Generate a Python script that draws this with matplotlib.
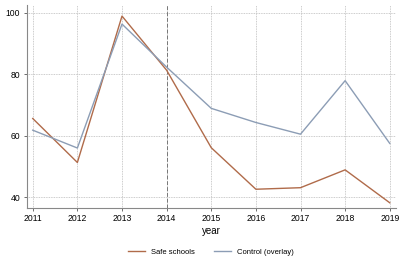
import matplotlib
matplotlib.use("Agg")
import matplotlib.pyplot as plt
from matplotlib.lines import Line2D

years = [2011, 2012, 2013, 2014, 2015, 2016, 2017, 2018, 2019]
safe_schools = [65.6, 51.3, 98.9, 81.3, 56.1, 42.6, 43.1, 48.9, 38.2]
control = [61.8, 56.0, 96.3, 82.3, 68.9, 64.3, 60.5, 77.9, 57.5]
yticks = [40, 60, 80, 100]
treat_year = 2014

plt.rcParams['font.family'] = ['Liberation Sans', 'DejaVu Sans']

W, H = 399, 259
fig = plt.figure(figsize=(W/100, H/100), dpi=100)
ax = fig.add_axes([26.5/W, 1-208/H, (396-26.5)/W, (208-5)/H])

c_safe = '#b06b4a'
c_ctrl = '#8c9db5'

ax.plot(years, safe_schools, color=c_safe, lw=1.0, zorder=3)
ax.plot(years, control, color=c_ctrl, lw=1.0, zorder=3)
ax.axvline(treat_year, color='#777777', lw=0.7, ls=(0, (4, 2)), zorder=2)

ax.set_xlim(2010.86, 2019.14)
ax.set_ylim(36.5, 102.5)
ax.set_xticks(years)
ax.set_yticks(yticks)
ax.grid(True, color='#bbbbbb', lw=0.6, ls=(0, (1, 1)))
ax.tick_params(labelsize=6.2, length=2.5, width=0.6, color='#555555', pad=2)
for s in ['top', 'right']:
    ax.spines[s].set_visible(False)
for s in ['left', 'bottom']:
    ax.spines[s].set_color('#888888')
    ax.spines[s].set_linewidth(0.8)
ax.set_xlabel('year', fontsize=7, labelpad=2)

handles = [Line2D([], [], color=c_safe, lw=1.0), Line2D([], [], color=c_ctrl, lw=1.0)]
fig.legend(handles, ['Safe schools', 'Control (overlay)'], loc='center',
           bbox_to_anchor=(211/W, 1-252/H), ncol=2, frameon=False, fontsize=5.5,
           handlelength=2.2, columnspacing=2.5, handletextpad=0.8)

fig.savefig('out.png', dpi=100)
